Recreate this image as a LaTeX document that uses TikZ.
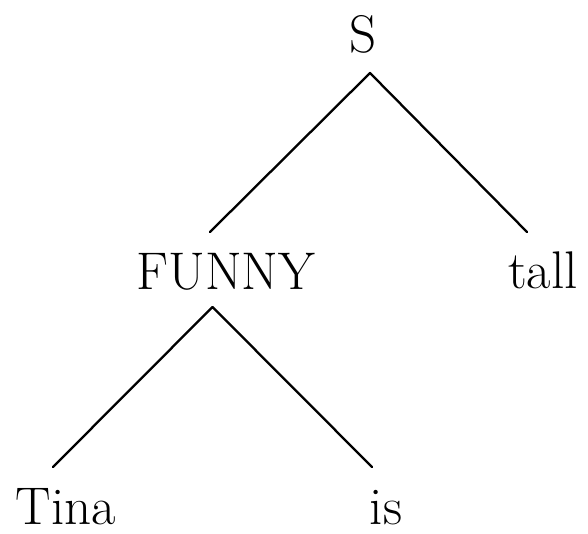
\documentclass[tikz,border=0pt]{standalone}
\begin{document}
\begin{tikzpicture}[x=1pt,y=1pt,
  lbl/.style={anchor=base,inner sep=0pt,font=\fontsize{53}{63}\selectfont},
  branch/.style={line width=2.3pt,line cap=round,line join=round}]
\useasboundingbox (0,0) rectangle (588,534);
% labels
\node[lbl] (S) at (363,481) {S};
\node[lbl] (funny) at (226,244) {FUNNY};
\node[lbl] (tall) at (543,245) {tall};
\node[lbl] (tina) at (66,9) {Tina};
\node[lbl] (is) at (386,9) {is};
% connector end points
\coordinate (sTop) at (370,461);
\coordinate (funnyUp) at (210,302);
\coordinate (tallUp) at (527,302);
\coordinate (funnyDown) at (212.5,227);
\coordinate (tinaUp) at (53,67);
\coordinate (isUp) at (372,67);
% branches
\draw[branch] (funnyUp) -- (sTop) -- (tallUp);
\draw[branch] (tinaUp) -- (funnyDown) -- (isUp);
\end{tikzpicture}
\end{document}
